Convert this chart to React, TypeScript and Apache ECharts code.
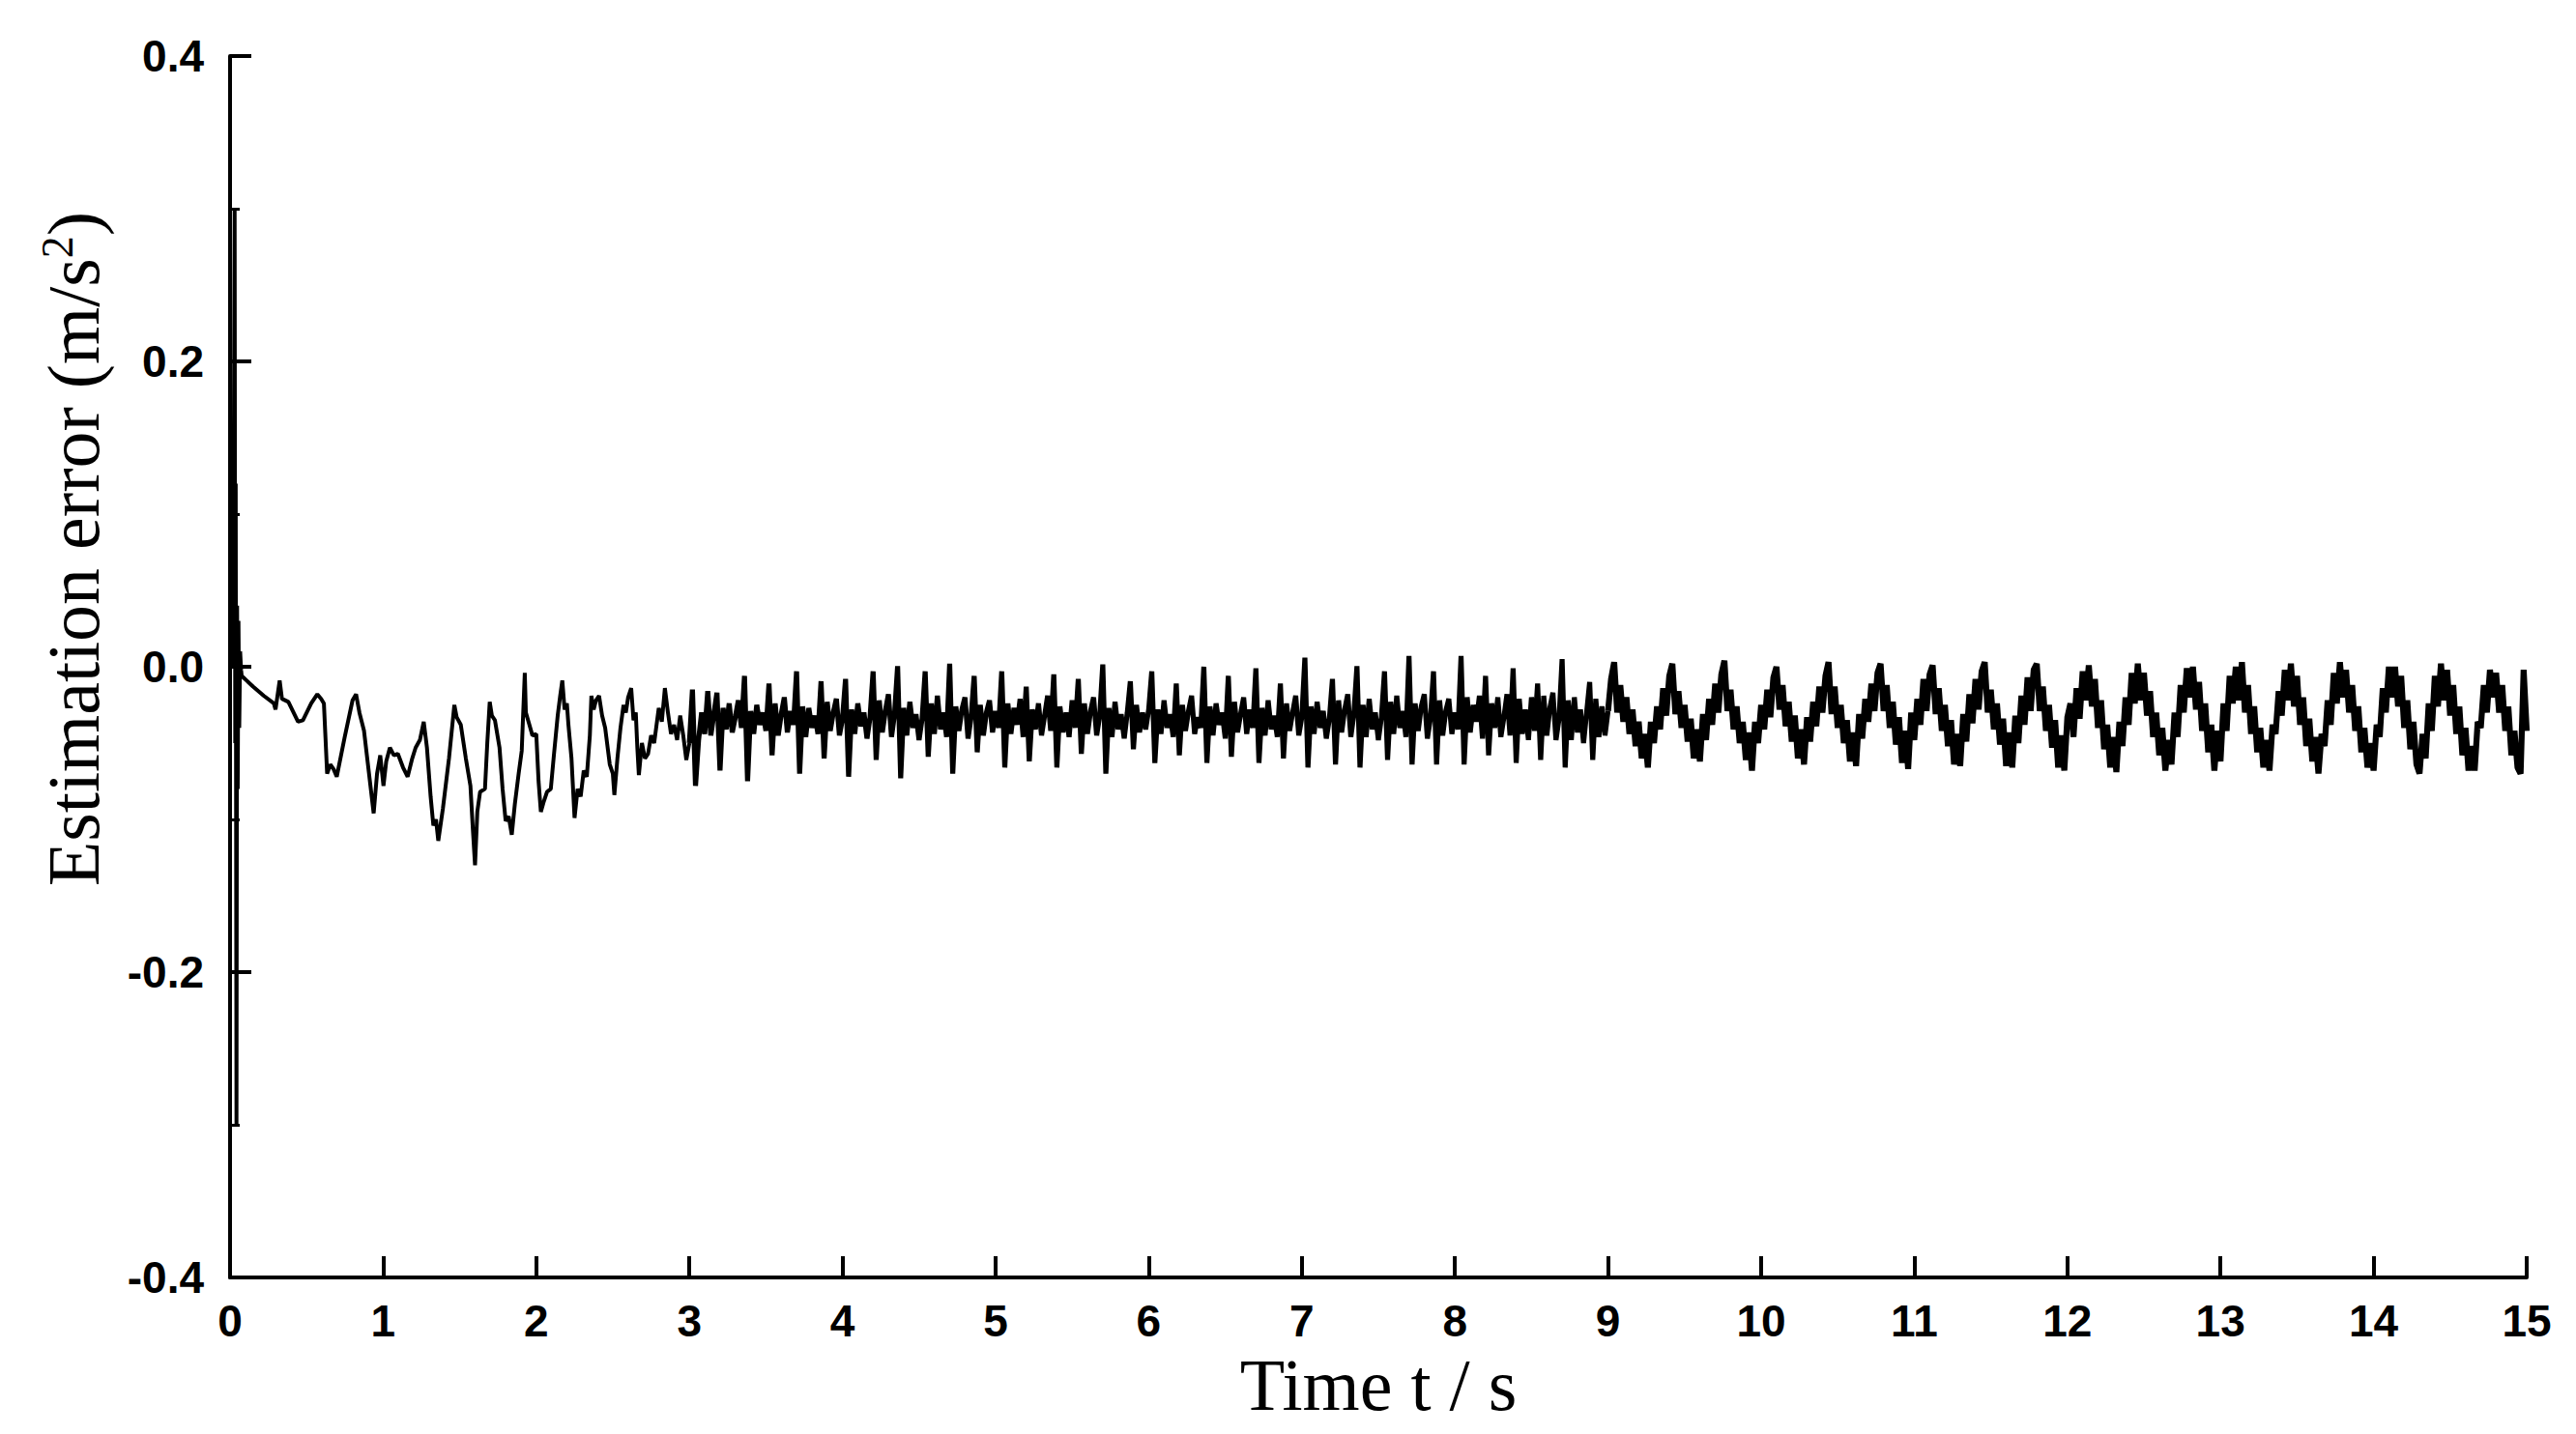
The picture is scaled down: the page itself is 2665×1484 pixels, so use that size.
import React, { useEffect, useRef } from "react";
import * as echarts from "echarts";

// Axis ticks
const xTickValues = [0, 1, 2, 3, 4, 5, 6, 7, 8, 9, 10, 11, 12, 13, 14, 15];
const yTickValues = [-0.4, -0.2, 0.0, 0.2, 0.4];

// 0 - 3 s : [time (s), estimation error (m/s^2)]
const early0to3: [number, number][] = [
  [0, 0], [0.02, 0.0], [0.03, 0.3], [0.034, -0.05], [0.037, 0.12], [0.042, -0.3], [0.046, 0.04], [0.05, -0.08], [0.055, 0.03], [0.06, -0.04], [0.066, 0.01], [0.072, -0.002],
  [0.076, -0.006], [0.15, -0.013], [0.22, -0.019], [0.286, -0.024], [0.297, -0.028], [0.324, -0.009], [0.339, -0.021], [0.381, -0.023], [0.444, -0.036], [0.476, -0.035],
  [0.53, -0.024], [0.57, -0.018], [0.595, -0.021], [0.613, -0.024], [0.634, -0.07], [0.655, -0.064], [0.676, -0.067], [0.697, -0.072], [0.749, -0.046], [0.8, -0.022],
  [0.823, -0.018], [0.845, -0.03], [0.875, -0.042], [0.938, -0.096], [0.96, -0.07], [0.981, -0.058], [1.002, -0.078], [1.02, -0.062], [1.044, -0.053], [1.07, -0.058],
  [1.096, -0.057], [1.13, -0.066], [1.16, -0.072], [1.19, -0.06], [1.212, -0.053], [1.24, -0.048], [1.265, -0.036], [1.286, -0.053], [1.31, -0.085], [1.328, -0.104],
  [1.345, -0.1], [1.36, -0.114], [1.39, -0.093], [1.43, -0.06], [1.465, -0.025], [1.48, -0.033], [1.507, -0.038], [1.54, -0.06], [1.57, -0.078], [1.585, -0.105],
  [1.6, -0.13], [1.615, -0.095], [1.633, -0.082], [1.665, -0.08], [1.68, -0.05], [1.696, -0.023], [1.71, -0.032], [1.73, -0.035], [1.76, -0.053], [1.78, -0.08],
  [1.8, -0.101], [1.82, -0.098], [1.84, -0.11], [1.86, -0.09], [1.885, -0.07], [1.905, -0.055], [1.925, -0.004], [1.932, -0.03], [1.955, -0.038], [1.975, -0.045],
  [2.0, -0.044], [2.015, -0.075], [2.03, -0.095], [2.05, -0.088], [2.07, -0.082], [2.095, -0.08], [2.115, -0.058], [2.14, -0.032], [2.155, -0.02], [2.17, -0.009],
  [2.185, -0.028], [2.2, -0.024], [2.21, -0.038], [2.23, -0.06], [2.25, -0.099], [2.27, -0.08], [2.29, -0.085], [2.31, -0.068], [2.33, -0.072], [2.35, -0.045],
  [2.36, -0.019], [2.375, -0.028], [2.39, -0.022], [2.41, -0.019], [2.43, -0.032], [2.45, -0.04], [2.48, -0.064], [2.5, -0.07], [2.51, -0.084], [2.53, -0.06],
  [2.55, -0.04], [2.57, -0.025], [2.585, -0.03], [2.6, -0.02], [2.62, -0.014], [2.635, -0.035], [2.65, -0.03], [2.66, -0.053], [2.67, -0.071], [2.69, -0.05],
  [2.71, -0.06], [2.73, -0.057], [2.75, -0.045], [2.77, -0.05], [2.8, -0.027], [2.82, -0.036], [2.84, -0.014], [2.86, -0.03], [2.88, -0.044], [2.9, -0.038],
  [2.92, -0.048], [2.94, -0.032], [2.96, -0.045], [2.98, -0.061], [3.0, -0.05],
];

// Sampled segments, one value every 0.02 s, first value at start + 0.02 s
const sampleStep = 0.02;

const err3to6 = [
  -.015, -.078, -.048, -.030, -.044, -.016, -.045, -.031,
  -.017, -.068, -.027, -.041, -.024, -.043, -.033, -.022, -.040,
  -.006, -.075, -.029, -.044, -.025, -.038, -.030, -.042,
  -.011, -.058, -.024, -.045, -.031, -.020, -.043, -.029, -.038,
  -.003, -.070, -.026, -.046, -.027, -.040, -.032, -.044,
  -.0095, -.060, -.023, -.042, -.030, -.021, -.045, -.034,
  -.008, -.072, -.028, -.044, -.024, -.039, -.030, -.047, -.033,
  -.003, -.061, -.022, -.043, -.029, -.018, -.046, -.031,
  .0004, -.073, -.027, -.045, -.023, -.040, -.031, -.048, -.034,
  -.003, -.059, -.024, -.044, -.019, -.041, -.030, -.046,
  .002, -.070, -.026, -.042, -.028, -.020, -.047, -.033,
  -.006, -.056, -.025, -.045, -.030, -.022, -.043, -.029, -.040,
  -.003, -.066, -.024, -.044, -.027, -.038, -.021, -.046,
  -.013, -.062, -.028, -.041, -.024, -.045, -.032, -.019, -.042,
  -.005, -.066, -.026, -.043, -.030, -.046, -.022, -.040,
  -.008, -.057, -.024, -.044, -.029, -.020, -.045, -.032,
  .0015, -.070, -.027, -.046, -.023, -.041, -.031, -.047, -.030,
  -.0095, -.054, -.025, -.043, -.030, -.041, -.028,
];

const err6to9 = [
  -.003, -.063, -.028, -.044, -.022, -.040, -.031, -.046,
  -.011, -.058, -.025, -.042, -.029, -.019, -.044, -.033, -.040,
  .000, -.063, -.026, -.045, -.024, -.038, -.030, -.047,
  -.006, -.059, -.023, -.043, -.031, -.020, -.044, -.028, -.040,
  -.001, -.063, -.027, -.045, -.022, -.041, -.032, -.046,
  -.011, -.060, -.024, -.042, -.030, -.019, -.045, -.033,
  .006, -.066, -.026, -.044, -.023, -.040, -.029, -.047, -.034,
  -.008, -.064, -.022, -.043, -.028, -.018, -.046, -.031,
  .0004, -.066, -.025, -.046, -.021, -.041, -.030, -.048, -.033,
  -.003, -.061, -.023, -.044, -.019, -.040, -.029, -.046,
  .007, -.064, -.024, -.042, -.026, -.018, -.047, -.034,
  -.003, -.064, -.022, -.045, -.029, -.021, -.044, -.030, -.041,
  .007, -.064, -.020, -.043, -.025, -.036, -.019, -.047,
  -.006, -.058, -.024, -.040, -.020, -.046, -.033, -.018, -.045,
  -.001, -.063, -.021, -.044, -.028, -.048, -.020, -.042,
  -.011, -.061, -.019, -.045, -.027, -.017, -.048, -.034,
  .005, -.066, -.022, -.048, -.020, -.043, -.028, -.050, -.030,
  -.010, -.061, -.021, -.046, -.026, -.045, -.029,
];

const err9to12 = [
  -.008, .003, -.030, -.012, -.036, -.020, -.044, -.028, -.052, -.036, -.060,
  -.044, -.066, -.036, -.050, -.026, -.041, -.014, -.032,
  -.006, .002, -.031, -.016, -.040, -.025, -.049, -.034, -.060,
  -.041, -.062, -.031, -.048, -.021, -.038, -.011, -.030,
  -.005, .004, -.029, -.015, -.041, -.026, -.050, -.036, -.061,
  -.043, -.068, -.036, -.050, -.025, -.041, -.015, -.033, -.007,
  .000, -.028, -.012, -.039, -.023, -.049, -.032, -.060,
  -.041, -.064, -.033, -.049, -.023, -.039, -.013, -.030, -.006,
  .003, -.031, -.013, -.040, -.025, -.050, -.035, -.062,
  -.043, -.065, -.031, -.047, -.021, -.036, -.011, -.029,
  -.004, .002, -.029, -.012, -.040, -.023, -.051, -.033, -.063,
  -.042, -.067, -.030, -.048, -.021, -.038, -.008, -.029,
  -.005, .001, -.031, -.014, -.042, -.025, -.052, -.035, -.064,
  -.044, -.065, -.031, -.049, -.018, -.037, -.008, -.028,
  -.003, .003, -.030, -.015, -.041, -.024, -.051, -.034, -.065,
  -.043, -.066, -.032, -.050, -.019, -.038, -.007, -.029,
  -.002, .002, -.029, -.013, -.042, -.025, -.053, -.035, -.066,
  -.045, -.068, -.033,
];

const err12to15 = [
  -.024, -.046, -.014, -.034, -.003, -.022,
  .001, -.026, -.008, -.040, -.022, -.054, -.038, -.066,
  -.046, -.069, -.036, -.052, -.020, -.038, -.004, -.024,
  .002, -.022, -.004, -.032, -.016, -.046, -.030, -.058, -.040, -.068,
  -.048, -.064, -.030, -.046, -.012, -.030, -.001,
  -.020, .000, -.028, -.010, -.042, -.024, -.056, -.038, -.068,
  -.042, -.062, -.024, -.042, -.006, -.024,
  .000, -.022, .003, -.030, -.012, -.044, -.026, -.056, -.040, -.066, -.048,
  -.068, -.038, -.044, -.016, -.032, -.002,
  -.022, .002, -.026, -.006, -.038, -.020, -.052, -.034, -.062, -.046, -.070,
  -.044, -.052, -.022, -.038, -.004, -.024,
  .003, -.020, -.002, -.030, -.012, -.042, -.026, -.056, -.040, -.066, -.050,
  -.068, -.038, -.046, -.014, -.030, .000, -.020,
  .000, -.026, -.006, -.040, -.022, -.054, -.036, -.064, -.070,
  -.044, -.060, -.024, -.042, -.006, -.026, .002,
  -.022, -.002, -.032, -.012, -.044, -.026, -.058, -.040, -.068, -.052,
  -.068, -.036, -.040, -.012, -.030, -.002, -.020,
  -.004, -.030, -.012, -.042, -.026, -.058, -.042, -.066,
  -.070, -.002, -.042,
];

const sampledSegments = [
  { start: 3, values: err3to6 },
  { start: 6, values: err6to9 },
  { start: 9, values: err9to12 },
  { start: 12, values: err12to15 },
];

const xAxisTitle = "Time t / s";
const yAxisTitle = "Estimation error (m/s{sup|2})";

export default function App() {
  const ref = useRef<HTMLDivElement>(null);

  useEffect(() => {
    if (!ref.current) return;
    const chart = echarts.init(ref.current, null, { renderer: "svg" });

    const earlyData: number[][] = early0to3.map((p) => [p[0], p[1]]);
    const lastEarly = early0to3[early0to3.length - 1];
    const midData: number[][] = [[lastEarly[0], lastEarly[1]]];
    const lateData: number[][] = [];
    sampledSegments.forEach((seg) => {
      seg.values.forEach((v, i) => {
        const t = Number((seg.start + (i + 1) * sampleStep).toFixed(2));
        if (t <= 9) midData.push([t, v]);
        if (t >= 9) lateData.push([t, v]);
      });
    });

    const lineSeries = (name: string, data: number[][], width: number) => ({
      name,
      type: "line",
      data,
      symbol: "none",
      showSymbol: false,
      lineStyle: { color: "#000", width },
      itemStyle: { color: "#000" },
      clip: false,
    });

    chart.setOption({
      animation: false,
      backgroundColor: "#ffffff",
      grid: { left: 238, right: 51, top: 58, bottom: 162, containLabel: false },
      xAxis: {
        type: "value",
        min: xTickValues[0],
        max: xTickValues[xTickValues.length - 1],
        interval: 1,
        name: xAxisTitle,
        nameLocation: "middle",
        nameGap: 62,
        nameTextStyle: { fontFamily: "Liberation Serif", fontSize: 76, color: "#000" },
        axisLine: { show: true, onZero: false, lineStyle: { color: "#000", width: 4 } },
        axisTick: { show: true, inside: true, length: 22, lineStyle: { color: "#000", width: 4 } },
        minorTick: { show: false },
        axisLabel: {
          color: "#000",
          fontFamily: "Liberation Sans",
          fontWeight: "bold",
          fontSize: 46,
          margin: 22,
        },
        splitLine: { show: false },
      },
      yAxis: {
        type: "value",
        min: yTickValues[0],
        max: yTickValues[yTickValues.length - 1],
        interval: 0.2,
        axisLine: { show: true, onZero: false, lineStyle: { color: "#000", width: 4 } },
        axisTick: { show: true, inside: true, length: 22, lineStyle: { color: "#000", width: 4 } },
        minorTick: { show: true, splitNumber: 2, length: 10, lineStyle: { color: "#000", width: 3 } },
        axisLabel: {
          color: "#000",
          fontFamily: "Liberation Sans",
          fontWeight: "bold",
          fontSize: 46,
          margin: 27,
          formatter: (v: number) => v.toFixed(1),
        },
        splitLine: { show: false },
        minorSplitLine: { show: false },
      },
      graphic: [
        {
          type: "text",
          x: 76,
          y: 568,
          rotation: Math.PI / 2,
          style: {
            text: yAxisTitle,
            fontFamily: "Liberation Serif",
            fontSize: 76,
            fill: "#000",
            align: "center",
            verticalAlign: "middle",
            rich: {
              sup: {
                fontFamily: "Liberation Serif",
                fontSize: 46,
                fill: "#000",
                verticalAlign: "top",
                padding: [0, 0, 34, 0],
              },
            },
          },
        },
      ],
      series: [
        lineSeries("error 0-3 s", earlyData, 4),
        lineSeries("error 3-9 s", midData, 5.2),
        lineSeries("error 9-15 s", lateData, 6.2),
      ],
    });

    return () => chart.dispose();
  }, []);

  return (
    <div
      ref={ref}
      style={{ position: "fixed", left: 0, top: 0, width: 2665, height: 1484, background: "#fff" }}
    />
  );
}
